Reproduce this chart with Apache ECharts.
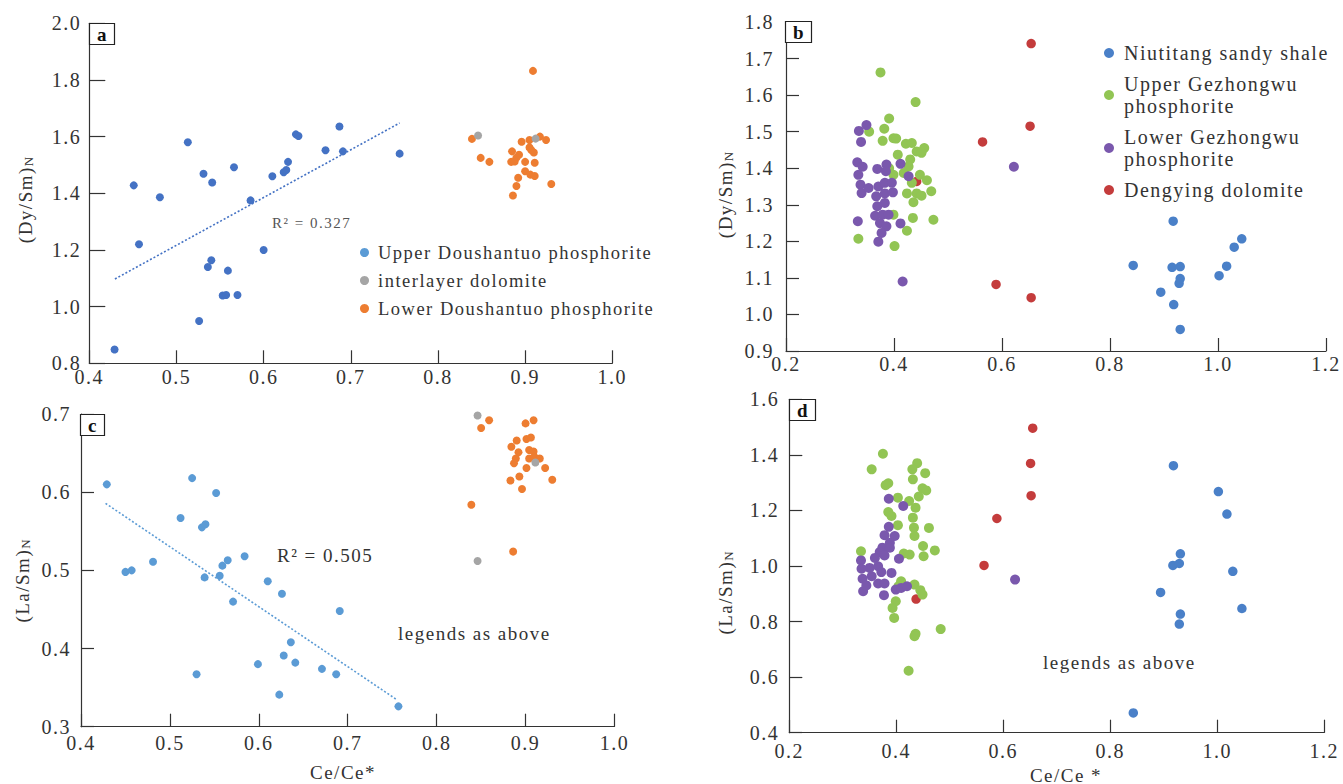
<!DOCTYPE html>
<html>
<head>
<meta charset="utf-8">
<script src="https://cdn.jsdelivr.net/npm/echarts@6/dist/echarts.min.js"></script>
<style>
html,body{margin:0;padding:0;background:#fff;}
#chart{width:1343px;height:784px;}
#chart text{letter-spacing:1.5px;}
</style>
</head>
<body>
<div id="chart"></div>
<script>
// ---------------- DATA ----------------
// Panel a : (Dy/Sm)N vs Ce/Ce*
const upperDoushantuoA = [[0.429,0.849],[0.451,1.428],[0.457,1.220],[0.481,1.386],[0.513,1.580],[0.526,0.949],[0.531,1.469],[0.536,1.140],[0.540,1.164],[0.541,1.438],[0.553,1.039],[0.557,1.041],[0.559,1.127],[0.566,1.492],[0.570,1.041],[0.585,1.375],[0.600,1.200],[0.610,1.460],[0.623,1.474],[0.626,1.482],[0.628,1.511],[0.637,1.608],[0.640,1.602],[0.671,1.552],[0.687,1.636],[0.691,1.548],[0.756,1.540]];
const interlayerA = [[0.846,1.604],[0.912,1.593]];
const lowerDoushantuoA = [[0.909,1.832],[0.839,1.592],[0.849,1.525],[0.859,1.511],[0.896,1.582],[0.905,1.588],[0.917,1.600],[0.924,1.588],[0.885,1.548],[0.893,1.536],[0.890,1.526],[0.884,1.511],[0.888,1.512],[0.900,1.511],[0.905,1.562],[0.907,1.553],[0.910,1.544],[0.911,1.508],[0.900,1.478],[0.906,1.466],[0.911,1.461],[0.892,1.455],[0.890,1.426],[0.886,1.392],[0.930,1.433]];
const trendA = [[0.4294,1.0976],[0.756,1.648]];

// Panel c : (La/Sm)N vs Ce/Ce*
const upperDoushantuoC = [[0.429,0.610],[0.450,0.498],[0.457,0.500],[0.481,0.511],[0.512,0.567],[0.525,0.618],[0.530,0.367],[0.536,0.555],[0.540,0.559],[0.539,0.491],[0.552,0.599],[0.556,0.493],[0.559,0.506],[0.565,0.513],[0.571,0.460],[0.584,0.518],[0.599,0.380],[0.610,0.486],[0.623,0.341],[0.626,0.470],[0.628,0.391],[0.636,0.408],[0.641,0.382],[0.671,0.374],[0.687,0.367],[0.691,0.448],[0.757,0.326]];
const interlayerC = [[0.846,0.698],[0.911,0.638],[0.846,0.512]];
const lowerDoushantuoC = [[0.859,0.692],[0.850,0.682],[0.900,0.688],[0.909,0.692],[0.884,0.658],[0.890,0.666],[0.901,0.668],[0.906,0.670],[0.892,0.651],[0.889,0.643],[0.887,0.637],[0.904,0.654],[0.909,0.652],[0.904,0.643],[0.910,0.645],[0.916,0.643],[0.901,0.631],[0.922,0.631],[0.930,0.616],[0.883,0.615],[0.893,0.620],[0.896,0.604],[0.839,0.584],[0.886,0.524]];
const trendC = [[0.4276,0.5857],[0.7557,0.3341]];

// Panel b : (Dy/Sm)N vs Ce/Ce*
const niutitangB = [[0.917,1.255],[1.044,1.207],[1.030,1.184],[0.843,1.134],[0.915,1.129],[0.930,1.131],[1.016,1.132],[1.002,1.106],[0.930,1.098],[0.928,1.085],[0.894,1.061],[0.918,1.027],[0.930,0.959]];
const upperGezhongwuB = [[0.375,1.662],[0.440,1.581],[0.391,1.536],[0.354,1.500],[0.382,1.508],[0.379,1.475],[0.399,1.482],[0.404,1.481],[0.422,1.467],[0.433,1.469],[0.442,1.446],[0.456,1.455],[0.451,1.442],[0.407,1.437],[0.430,1.424],[0.427,1.405],[0.391,1.400],[0.399,1.382],[0.418,1.387],[0.448,1.382],[0.461,1.367],[0.433,1.360],[0.469,1.337],[0.424,1.331],[0.442,1.331],[0.451,1.325],[0.436,1.307],[0.399,1.273],[0.435,1.264],[0.473,1.259],[0.424,1.229],[0.334,1.207],[0.401,1.187]];
const lowerGezhongwuB = [[0.349,1.518],[0.335,1.502],[0.339,1.472],[0.332,1.416],[0.342,1.404],[0.334,1.382],[0.369,1.398],[0.386,1.410],[0.385,1.392],[0.412,1.412],[0.427,1.378],[0.338,1.355],[0.340,1.332],[0.353,1.346],[0.371,1.350],[0.383,1.360],[0.396,1.360],[0.367,1.323],[0.383,1.331],[0.398,1.334],[0.369,1.296],[0.383,1.305],[0.365,1.270],[0.379,1.273],[0.390,1.273],[0.374,1.250],[0.386,1.241],[0.333,1.255],[0.412,1.249],[0.377,1.223],[0.371,1.199],[0.416,1.090],[0.622,1.404]];
const dengyingB = [[0.564,1.472],[0.589,1.082],[0.442,1.364],[0.654,1.741],[0.652,1.515],[0.654,1.046]];

// Panel d : (La/Sm)N vs Ce/Ce*
const niutitangD = [[0.918,1.361],[1.002,1.268],[1.018,1.187],[0.931,1.044],[0.917,1.002],[0.929,1.009],[1.029,0.981],[0.894,0.905],[1.046,0.847],[0.931,0.827],[0.929,0.791],[0.843,0.471]];
const upperGezhongwuD = [[0.375,1.404],[0.354,1.348],[0.439,1.370],[0.430,1.348],[0.454,1.334],[0.431,1.312],[0.385,1.298],[0.380,1.291],[0.449,1.280],[0.456,1.272],[0.442,1.250],[0.424,1.234],[0.403,1.246],[0.436,1.210],[0.385,1.194],[0.391,1.180],[0.403,1.147],[0.431,1.174],[0.461,1.137],[0.433,1.138],[0.434,1.108],[0.450,1.072],[0.472,1.056],[0.425,1.041],[0.414,1.045],[0.451,1.035],[0.334,1.053],[0.409,0.945],[0.404,0.927],[0.434,0.933],[0.445,0.913],[0.449,0.897],[0.399,0.873],[0.393,0.849],[0.396,0.813],[0.436,0.756],[0.434,0.747],[0.483,0.773],[0.423,0.623]];
const lowerGezhongwuD = [[0.386,1.242],[0.413,1.216],[0.386,1.141],[0.378,1.111],[0.397,1.108],[0.388,1.084],[0.374,1.066],[0.388,1.066],[0.369,1.050],[0.360,1.029],[0.378,1.038],[0.405,1.026],[0.334,1.020],[0.350,0.993],[0.366,0.999],[0.372,0.978],[0.391,0.975],[0.335,0.990],[0.337,0.954],[0.354,0.963],[0.366,0.937],[0.378,0.937],[0.338,0.909],[0.344,0.930],[0.377,0.895],[0.399,0.915],[0.409,0.921],[0.420,0.927],[0.622,0.951]];
const dengyingD = [[0.655,1.496],[0.651,1.369],[0.652,1.253],[0.588,1.171],[0.564,1.002],[0.437,0.881]];

// Axis ticks (min, max, interval)
const xTicksAC = [0.4, 1.0, 0.1];
const xTicksBD = [0.2, 1.2, 0.2];
const yTicksA = [0.8, 2.0, 0.2];
const yTicksB = [0.9, 1.8, 0.1];
const yTicksC = [0.3, 0.7, 0.1];
const yTicksD = [0.4, 1.6, 0.2];

// ---------------- STYLE ----------------
const FONT = "'Times New Roman','Liberation Serif',serif";
const C = {
  blueA:'#4472c4', blueC:'#5b9bd5', orange:'#ed7d31', gray:'#a5a5a5',
  blueB:'#4a80c8', green:'#92c554', purple:'#7a58ad', red:'#c43c3c',
  axis:'#333', text:'#333'
};

function axis(gridIndex, ticks, tickLen, margin, lineHeight) {
  return {
    type:'value', gridIndex, min:ticks[0], max:ticks[1], interval:ticks[2],
    axisLine:{show:true, onZero:false, lineStyle:{color:C.axis, width:1.2}},
    axisTick:{show:true, inside:true, length:tickLen, lineStyle:{color:C.axis, width:1.2}},
    axisLabel:{color:C.text, fontSize:20, lineHeight:lineHeight || 20, fontFamily:FONT, margin,
               showMinLabel:true, showMaxLabel:true, formatter: v => v.toFixed(1)},
    splitLine:{show:false}
  };
}

function scatter(name, data, xi, color, size) {
  return {type:'scatter', name, data, xAxisIndex:xi, yAxisIndex:xi, symbolSize:size,
          itemStyle:{color, opacity:1}, emphasis:{disabled:true}};
}
function trend(name, data, xi, color) {
  return {type:'line', name, data, xAxisIndex:xi, yAxisIndex:xi, symbol:'none',
          lineStyle:{color, width:1.6, type:[2,2]}, emphasis:{disabled:true}, silent:true};
}

function boxTitle(text, left, top) {
  return {text, left, top, padding:[1,8,1,8], borderWidth:1.2, borderColor:'#222', backgroundColor:'#fff',
          textStyle:{fontSize:19, fontWeight:'bold', fontFamily:FONT, color:'#111', lineHeight:20}};
}

function yName(text, x, y) {
  return {type:'text', x, y, rotation:Math.PI/2, z:10,
    style:{text:'{m|' + text + '}{s|N}', align:'center', verticalAlign:'middle', fill:C.text,
      rich:{m:{fontSize:19, fontFamily:FONT, fill:C.text},
            s:{fontSize:13, fontFamily:FONT, fill:C.text, verticalAlign:'bottom', padding:[0,0,0,6]}}}};
}
function plainText(text, x, y, size, color) {
  return {type:'text', x, y, z:10,
    style:{text, fontSize:size, fontFamily:FONT, fill:color, align:'left', verticalAlign:'middle'}};
}

const option = {
  animation:false,
  backgroundColor:'#fff',
  textStyle:{fontFamily:FONT},
  title:[boxTitle('a',89,23), boxTitle('b',785,21), boxTitle('c',80,414), boxTitle('d',789,399)],
  legend:[
    {orient:'vertical', left:355, top:238, itemGap:9, itemWidth:9, itemHeight:9, icon:'circle', selectedMode:false,
     textStyle:{fontSize:18.5, fontFamily:FONT, color:C.text, padding:[0,0,0,4]},
     data:[{name:'Upper Doushantuo phosphorite', itemStyle:{color:C.blueC}}, 'interlayer dolomite', 'Lower Doushantuo phosphorite']},
    {orient:'vertical', left:1099, top:37, itemGap:9, itemWidth:10, itemHeight:10, icon:'circle', selectedMode:false,
     formatter: n => n.replace(' phosphorite', '\nphosphorite'),
     textStyle:{fontSize:20, lineHeight:22, fontFamily:FONT, color:C.text, padding:[0,0,0,5]},
     data:['Niutitang sandy shale','Upper Gezhongwu phosphorite','Lower Gezhongwu phosphorite','Dengying dolomite']}
  ],
  grid:[
    {left:89.3, top:23.3, width:523, height:340},
    {left:786, top:22, width:540, height:329},
    {left:81, top:414, width:533.5, height:312.7},
    {left:789.3, top:399.3, width:535, height:333.4}
  ],
  xAxis:[axis(0,xTicksAC,13,7,14), axis(1,xTicksBD,13,3), axis(2,xTicksAC,13,6), axis(3,xTicksBD,13,8)],
  yAxis:[axis(0,yTicksA,16,8,14), axis(1,yTicksB,13,12), axis(2,yTicksC,13,10), axis(3,yTicksD,13,10)],
  series:[
    trend('trend a', trendA, 0, C.blueA),
    scatter('Upper Doushantuo phosphorite', upperDoushantuoA, 0, C.blueA, 8),
    scatter('Lower Doushantuo phosphorite', lowerDoushantuoA, 0, C.orange, 8),
    scatter('interlayer dolomite', interlayerA, 0, C.gray, 8),

    scatter('Dengying dolomite', dengyingB, 1, C.red, 9.5),
    scatter('Niutitang sandy shale', niutitangB, 1, C.blueB, 9.5),
    scatter('Upper Gezhongwu phosphorite', upperGezhongwuB, 1, C.green, 10),
    scatter('Lower Gezhongwu phosphorite', lowerGezhongwuB, 1, C.purple, 10),

    trend('trend c', trendC, 2, C.blueC),
    scatter('Upper Doushantuo phosphorite', upperDoushantuoC, 2, C.blueC, 8),
    scatter('Lower Doushantuo phosphorite', lowerDoushantuoC, 2, C.orange, 8),
    scatter('interlayer dolomite', interlayerC, 2, C.gray, 8),

    scatter('Dengying dolomite', dengyingD, 3, C.red, 9.5),
    scatter('Niutitang sandy shale', niutitangD, 3, C.blueB, 9.5),
    scatter('Upper Gezhongwu phosphorite', upperGezhongwuD, 3, C.green, 10),
    scatter('Lower Gezhongwu phosphorite', lowerGezhongwuD, 3, C.purple, 10)
  ],
  graphic:[
    yName('(Dy/Sm)', 25, 197),
    yName('(Dy/Sm)', 725, 192),
    yName('(La/Sm)', 22, 578),
    yName('(La/Sm)', 725, 590),
    {type:'text', x:343, y:772, z:10, style:{text:'Ce/Ce*', fontSize:19, fontFamily:FONT, fill:C.text, align:'center', verticalAlign:'middle'}},
    {type:'text', x:1066, y:775, z:10, style:{text:'Ce/Ce\u00a0*', fontSize:19, fontFamily:FONT, fill:C.text, align:'center', verticalAlign:'middle'}},
    plainText('R² = 0.327', 272, 223, 15, '#555'),
    plainText('R² = 0.505', 277, 555, 19, C.text),
    plainText('legends as above', 398, 633, 19, C.text),
    plainText('legends as above', 1043, 662, 19, C.text)
  ]
};

const chart = echarts.init(document.getElementById('chart'), null, {renderer:'svg'});
chart.setOption(option);
</script>
</body>
</html>
